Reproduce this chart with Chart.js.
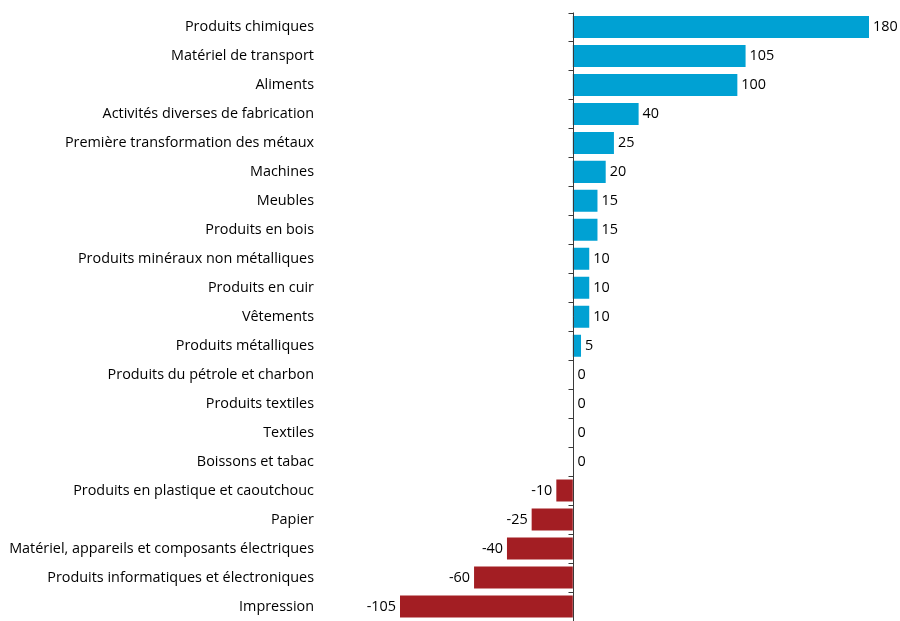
<!DOCTYPE html>
<html>
<head>
<meta charset="utf-8">
<script src="https://cdn.jsdelivr.net/npm/chart.js@4"></script>
<style>
  html, body { margin: 0; padding: 0; background: #ffffff; overflow: hidden; }
  #wrap { width: 900px; height: 621px; position: relative; }
</style>
</head>
<body>
<div id="wrap"><canvas id="c"></canvas></div>
<script>
const categories = [
  "Produits chimiques",
  "Matériel de transport",
  "Aliments",
  "Activités diverses de fabrication",
  "Première transformation des métaux",
  "Machines",
  "Meubles",
  "Produits en bois",
  "Produits minéraux non métalliques",
  "Produits en cuir",
  "Vêtements",
  "Produits métalliques",
  "Produits du pétrole et charbon",
  "Produits textiles",
  "Textiles",
  "Boissons et tabac",
  "Produits en plastique et caoutchouc",
  "Papier",
  "Matériel, appareils et composants électriques",
  "Produits informatiques et électroniques",
  "Impression"
];
const values = [180, 105, 100, 40, 25, 20, 15, 15, 10, 10, 10, 5, 0, 0, 0, 0, -10, -25, -40, -60, -105];
const xMin = -105;
const xMax = 180;

const BLUE = "#00A1D3";
const RED = "#A31E23";
const FONT = "'Open Sans'";
const FSIZE = 14.4;

const axisPlugin = {
  id: "zeroAxis",
  afterDatasetsDraw(chart) {
    const ctx = chart.ctx;
    const x = chart.scales.x;
    const x0 = Math.round(x.getPixelForValue(0)) + 0.5;
    const top = chart.chartArea.top;
    const bottom = chart.chartArea.bottom;
    ctx.save();
    ctx.strokeStyle = "#3a3a3a";
    ctx.lineWidth = 1;
    ctx.beginPath();
    ctx.moveTo(x0, top);
    ctx.lineTo(x0, bottom);
    const n = categories.length;
    const step = (bottom - top) / n;
    for (let i = 0; i <= n; i++) {
      const yy = Math.round(top + i * step) + 0.5;
      ctx.moveTo(x0 - 5, yy);
      ctx.lineTo(x0, yy);
    }
    ctx.stroke();

    ctx.font = FSIZE + "px " + FONT;
    ctx.fillStyle = "#000000";
    ctx.textBaseline = "middle";
    const meta = chart.getDatasetMeta(0);
    meta.data.forEach((bar, i) => {
      const v = values[i];
      const yy = bar.y;
      if (v < 0) {
        ctx.textAlign = "right";
        ctx.fillText(String(v), bar.x - 4, yy);
      } else {
        ctx.textAlign = "left";
        ctx.fillText(String(v), Math.max(bar.x, x0) + 4, yy);
      }
    });
    ctx.restore();
  }
};

new Chart(document.getElementById("c"), {
  type: "bar",
  data: {
    labels: categories,
    datasets: [{
      data: values,
      backgroundColor: values.map(v => v < 0 ? RED : BLUE),
      borderWidth: 0,
      categoryPercentage: 1.0,
      barPercentage: 0.76
    }]
  },
  options: {
    indexAxis: "y",
    responsive: true,
    maintainAspectRatio: false,
    animation: false,
    layout: { padding: { top: 12.5, right: 31, bottom: -1.5, left: 0 } },
    plugins: {
      legend: { display: false },
      tooltip: { enabled: false }
    },
    scales: {
      x: {
        display: false,
        min: xMin,
        max: xMax
      },
      y: {
        afterFit(scale) {
          scale.width = 400;
          scale.paddingTop = 0;
          scale.paddingBottom = 0;
        },
        grid: { display: false, drawTicks: false },
        border: { display: false },
        ticks: {
          padding: 86,
          color: "#000000",
          font: { family: FONT, size: FSIZE },
          autoSkip: false
        }
      }
    }
  },
  plugins: [axisPlugin]
});
</script>
</body>
</html>
